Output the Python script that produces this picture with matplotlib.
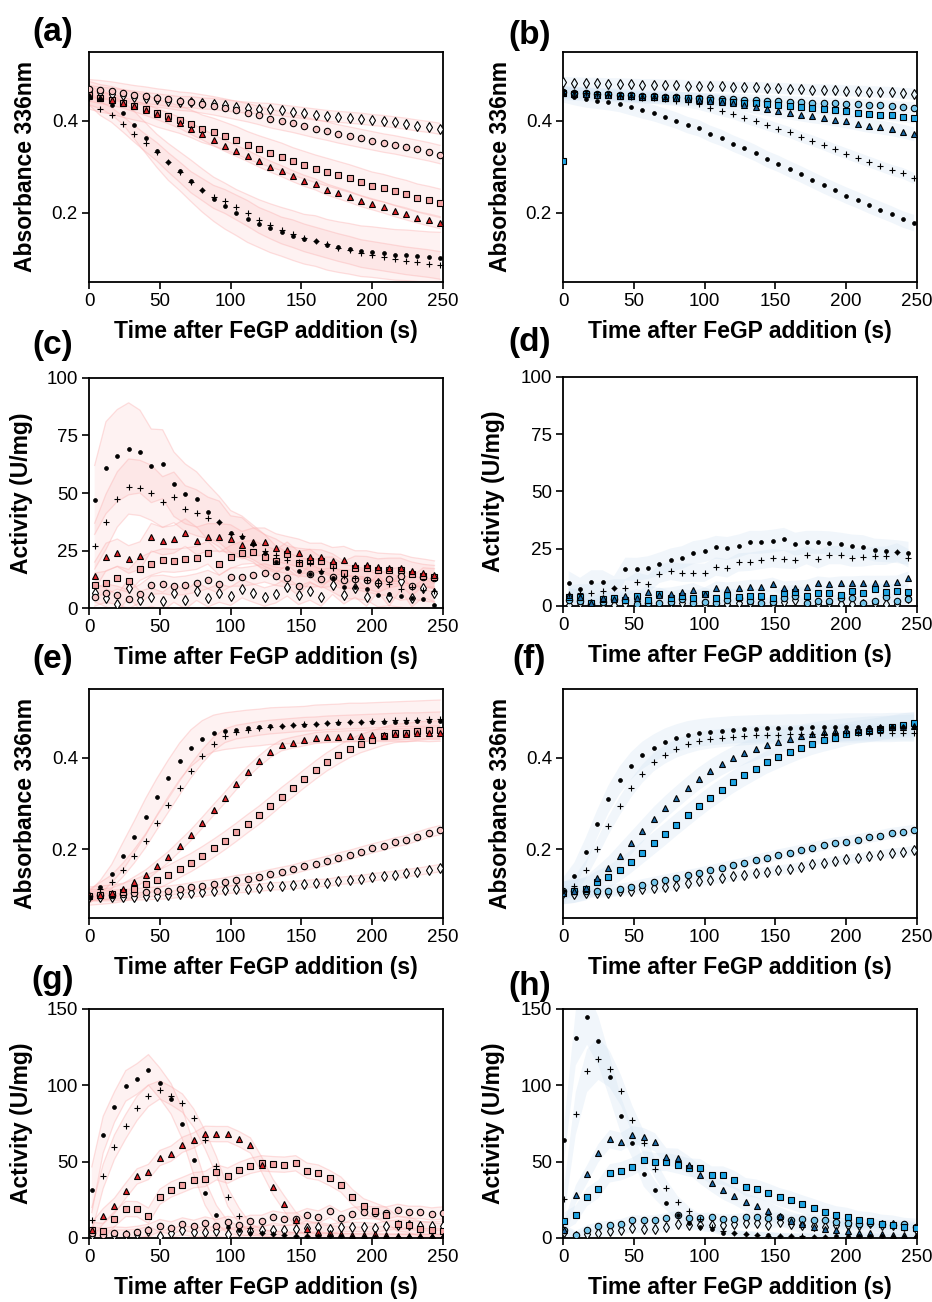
import numpy as np
import matplotlib
matplotlib.use('Agg')
import matplotlib.pyplot as plt

plt.rcParams['font.family'] = ['Liberation Sans', 'DejaVu Sans']

# time grids (s)
t_abs = [0, 8, 16, 24, 32, 40, 48, 56, 64, 72, 80, 88, 96, 104, 112, 120,
         128, 136, 144, 152, 160, 168, 176, 184, 192, 200, 208, 216, 224, 232, 240, 248]
t_c = [4, 12, 20, 28, 36, 44, 52, 60, 68, 76, 84, 92, 100, 108, 116, 124,
       132, 140, 148, 156, 164, 172, 180, 188, 196, 204, 212, 220, 228, 236, 244]
t_g = [2, 10, 18, 26, 34, 42, 50, 58, 66, 74, 82, 90, 98, 106, 114, 122,
       130, 138, 146, 154, 162, 170, 178, 186, 194, 202, 210, 218, 226, 234, 242, 250]
t_h = [1, 9, 17, 25, 33, 41, 49, 57, 65, 73, 81, 89, 97, 105, 113, 121,
       129, 137, 145, 153, 161, 169, 177, 185, 193, 201, 209, 217, 225, 233, 241, 249]

# ---- (a) absorbance, red
a_dot = [0.455, 0.447, 0.435, 0.418, 0.391, 0.363, 0.335, 0.311, 0.291, 0.270, 0.249, 0.230, 0.215, 0.201, 0.188, 0.177,
         0.167, 0.159, 0.151, 0.143, 0.139, 0.131, 0.126, 0.122, 0.117, 0.115, 0.112, 0.109, 0.108, 0.106, 0.104, 0.103]
a_plus = [0.450, 0.427, 0.413, 0.393, 0.372, 0.352, 0.333, 0.310, 0.289, 0.267, 0.251, 0.235, 0.225, 0.212, 0.199, 0.184,
          0.173, 0.162, 0.155, 0.146, 0.139, 0.132, 0.125, 0.119, 0.112, 0.108, 0.104, 0.100, 0.096, 0.093, 0.090, 0.086]
a_tri = [0.455, 0.450, 0.446, 0.440, 0.432, 0.424, 0.415, 0.406, 0.396, 0.383, 0.371, 0.358, 0.346, 0.335, 0.324, 0.312,
         0.301, 0.291, 0.280, 0.270, 0.262, 0.251, 0.243, 0.235, 0.226, 0.219, 0.212, 0.204, 0.197, 0.190, 0.184, 0.178]
a_sq = [0.456, 0.449, 0.445, 0.438, 0.432, 0.427, 0.417, 0.410, 0.403, 0.394, 0.383, 0.376, 0.367, 0.358, 0.347, 0.338,
        0.330, 0.322, 0.312, 0.304, 0.296, 0.289, 0.282, 0.275, 0.267, 0.259, 0.254, 0.247, 0.241, 0.233, 0.228, 0.222]
a_cir = [0.470, 0.468, 0.465, 0.461, 0.457, 0.454, 0.450, 0.447, 0.443, 0.441, 0.437, 0.433, 0.428, 0.423, 0.418, 0.412,
         0.405, 0.400, 0.395, 0.389, 0.383, 0.378, 0.372, 0.367, 0.362, 0.357, 0.352, 0.348, 0.343, 0.338, 0.333, 0.327]
a_dia = [0.465, 0.462, 0.459, 0.456, 0.453, 0.450, 0.447, 0.444, 0.441, 0.441, 0.438, 0.437, 0.434, 0.431, 0.429, 0.427,
         0.426, 0.423, 0.420, 0.417, 0.414, 0.411, 0.409, 0.407, 0.405, 0.402, 0.400, 0.397, 0.394, 0.390, 0.387, 0.383]
a_dot_sd = [0.020, 0.020, 0.022, 0.025, 0.030, 0.033, 0.036, 0.040, 0.042, 0.045, 0.047, 0.048, 0.050, 0.050, 0.052, 0.052,
            0.053, 0.053, 0.054, 0.054, 0.055, 0.055, 0.055, 0.055, 0.055, 0.055, 0.055, 0.055, 0.055, 0.055, 0.055, 0.055]
a_plus_sd = [0.015, 0.015, 0.016, 0.017, 0.018, 0.019, 0.020, 0.021, 0.022, 0.023, 0.024, 0.025, 0.026, 0.027, 0.028, 0.028,
             0.029, 0.029, 0.030, 0.030, 0.030, 0.030, 0.030, 0.030, 0.030, 0.030, 0.030, 0.030, 0.030, 0.030, 0.030, 0.030]
a_sd = [a_dot_sd, a_plus_sd, 0.012, 0.03, 0.02, 0.012]

# ---- (b) absorbance, blue
b_dot = [0.458, 0.452, 0.447, 0.444, 0.441, 0.437, 0.430, 0.423, 0.417, 0.409, 0.401, 0.391, 0.384, 0.372, 0.363, 0.351,
         0.341, 0.330, 0.317, 0.307, 0.295, 0.284, 0.272, 0.260, 0.249, 0.238, 0.228, 0.217, 0.207, 0.197, 0.186, 0.178]
b_plus = [0.465, 0.462, 0.460, 0.458, 0.457, 0.455, 0.453, 0.451, 0.449, 0.447, 0.444, 0.441, 0.436, 0.429, 0.422, 0.416,
          0.407, 0.399, 0.391, 0.383, 0.375, 0.365, 0.357, 0.348, 0.338, 0.329, 0.320, 0.311, 0.302, 0.293, 0.286, 0.275]
b_tri = [0.460, 0.459, 0.458, 0.457, 0.456, 0.455, 0.454, 0.453, 0.452, 0.451, 0.450, 0.448, 0.446, 0.444, 0.442, 0.440,
         0.435, 0.430, 0.426, 0.422, 0.418, 0.414, 0.410, 0.407, 0.403, 0.399, 0.394, 0.389, 0.386, 0.382, 0.377, 0.371]
b_sq = [0.460, 0.459, 0.458, 0.457, 0.456, 0.455, 0.454, 0.453, 0.452, 0.451, 0.450, 0.449, 0.448, 0.446, 0.444, 0.442,
        0.440, 0.438, 0.436, 0.434, 0.432, 0.430, 0.428, 0.426, 0.423, 0.421, 0.418, 0.416, 0.414, 0.412, 0.409, 0.406]
b_cir = [0.462, 0.461, 0.460, 0.459, 0.458, 0.457, 0.456, 0.455, 0.454, 0.453, 0.452, 0.451, 0.450, 0.449, 0.448, 0.447,
         0.446, 0.445, 0.444, 0.443, 0.442, 0.441, 0.440, 0.439, 0.438, 0.437, 0.436, 0.435, 0.434, 0.432, 0.430, 0.429]
b_dia = [0.484, 0.483, 0.482, 0.482, 0.481, 0.481, 0.480, 0.479, 0.479, 0.478, 0.478, 0.477, 0.476, 0.476, 0.475, 0.474,
         0.473, 0.473, 0.472, 0.471, 0.470, 0.469, 0.468, 0.468, 0.467, 0.466, 0.465, 0.464, 0.463, 0.462, 0.460, 0.459]
b_sd = [0.018, 0.012, 0.015, 0.012, 0.012, 0.012]
b_sq_outlier = 0.314

# ---- (c) activity, red
c_dot = [47.0, 61.0, 66.3, 69.2, 68.0, 61.8, 62.5, 53.8, 49.6, 47.2, 41.7, 37.5, 32.4, 31.0, 28.0, 24.0,
         20.0, 17.3, 16.1, 15.0, 15.5, 13.0, 9.2, 9.0, 8.4, 5.5, 6.0, 5.4, 4.5, 3.8, 1.2]
c_plus = [26.9, 37.5, 47.2, 52.8, 52.2, 50.1, 46.1, 48.1, 43.2, 41.4, 39.2, 37.5, 32.1, 31.3, 28.0, 25.0,
          23.0, 21.0, 20.0, 19.5, 16.1, 17.2, 14.0, 13.0, 12.0, 10.9, 10.3, 8.4, 9.0, 8.0, 7.5]
c_tri = [14.0, 22.2, 24.0, 21.1, 22.8, 30.8, 29.1, 29.9, 32.8, 29.2, 30.7, 30.7, 30.2, 27.3, 28.8, 28.8,
         26.3, 25.1, 24.0, 22.2, 22.2, 20.3, 20.8, 18.9, 18.9, 17.9, 17.6, 17.4, 16.0, 15.3, 14.5]
c_sq = [10.2, 11.0, 13.2, 11.8, 17.0, 19.3, 20.8, 20.5, 21.1, 21.8, 24.1, 19.3, 22.2, 24.0, 24.4, 22.1,
        20.3, 23.7, 19.6, 20.5, 20.3, 18.6, 15.4, 17.6, 17.4, 16.4, 16.7, 16.7, 15.0, 14.0, 13.5]
c_cir = [4.8, 6.5, 5.5, 3.8, 6.2, 9.9, 10.3, 9.4, 9.9, 10.9, 12.4, 10.3, 13.5, 13.5, 14.2, 15.3,
         13.8, 13.1, 9.4, 15.0, 12.8, 13.5, 12.4, 12.8, 12.4, 10.9, 12.8, 13.8, 9.4, 13.5, 13.1]
c_dia = [6.7, 4.5, 1.9, 8.7, 3.3, 4.8, 2.9, 6.5, 3.6, 7.3, 4.5, 6.5, 5.1, 8.4, 6.5, 4.8,
         6.2, 9.2, 5.5, 7.4, 4.8, 9.9, 5.8, 8.7, 4.8, 10.9, 4.8, 11.8, 4.5, 8.7, 6.7]
c_dot_sd = [15, 20, 20, 20, 18, 16, 15, 14, 13, 12, 12, 11, 10, 9, 8, 8,
            7, 7, 6, 6, 6, 6, 5, 5, 5, 5, 5, 5, 5, 5, 5]
c_plus_sd = [10, 12, 12, 12, 12, 12, 11, 11, 10, 10, 9, 9, 8, 8, 7, 7,
             7, 6, 6, 6, 6, 5, 5, 5, 5, 5, 5, 5, 5, 5, 5]
c_sd = [c_dot_sd, c_plus_sd, 6, 5, 4, 4]

# ---- (d) activity, blue
d_dot = [10.2, 7.3, 10.6, 10.6, 8.0, 16.1, 16.0, 16.7, 18.3, 20.1, 21.1, 23.3, 24.1, 25.6, 25.1, 26.2,
         27.8, 27.8, 28.3, 29.1, 27.0, 27.8, 27.8, 27.6, 27.0, 26.2, 25.9, 24.4, 24.1, 23.7, 23.0]
d_plus = [5.0, 5.5, 5.5, 6.5, 7.7, 7.7, 10.6, 9.4, 14.0, 15.3, 14.5, 14.5, 14.5, 17.2, 16.4, 19.0,
          19.3, 20.1, 20.8, 20.3, 20.1, 22.2, 20.3, 22.2, 22.2, 21.1, 21.2, 21.9, 21.9, 23.4, 20.8]
d_tri = [4.8, 4.1, 1.5, 3.6, 2.9, 4.4, 3.3, 6.0, 4.8, 5.1, 6.0, 7.0, 5.1, 7.7, 7.3, 7.7,
         8.4, 8.4, 9.4, 7.7, 8.0, 8.4, 9.9, 9.4, 9.9, 9.9, 10.2, 10.2, 10.2, 10.3, 12.1]
d_sq = [4.1, 4.1, 1.2, 2.9, 3.3, 2.6, 4.4, 2.6, 5.1, 3.3, 4.4, 3.6, 5.1, 3.6, 4.8, 4.1,
        4.4, 4.4, 3.6, 5.5, 6.3, 4.4, 5.5, 5.8, 4.8, 6.7, 5.5, 7.3, 6.3, 6.7, 6.0]
d_cir = [2.6, 2.3, 0.9, 1.9, 2.9, 2.6, 0.9, 1.2, 1.2, 1.9, 2.9, 1.5, 1.9, 1.5, 2.6, 3.3,
         2.3, 1.2, 1.9, 3.3, 4.4, 1.5, 2.3, 2.3, 3.3, 3.3, 1.5, 2.3, 4.1, 2.3, 2.9]
d_dia = [0.4, 1.2, 0.9, 0.9, 0.4, 0.9, 0.9, 0.4, 0.4, 1.2, 1.2, 0.9, 0.4, 0.9, 0.9, 1.2,
         1.2, 0.9, 0.9, 1.9, 2.6, 0.9, 0.9, 1.2, 0.9, 0.9, 0.9, 1.2, 0.9, 0.9, 3.3]
d_sd = [5, 4, 3, 3, 2, 2]

# ---- (e) absorbance, red
e_dot = [0.097, 0.117, 0.147, 0.185, 0.227, 0.271, 0.315, 0.355, 0.392, 0.421, 0.441, 0.453, 0.458, 0.461, 0.464, 0.466,
         0.469, 0.470, 0.471, 0.472, 0.474, 0.475, 0.476, 0.477, 0.477, 0.478, 0.478, 0.479, 0.479, 0.480, 0.480, 0.481]
e_plus = [0.097, 0.113, 0.129, 0.155, 0.185, 0.219, 0.258, 0.296, 0.334, 0.371, 0.403, 0.430, 0.448, 0.456, 0.460, 0.464,
          0.467, 0.469, 0.471, 0.473, 0.474, 0.476, 0.477, 0.478, 0.479, 0.480, 0.481, 0.482, 0.483, 0.483, 0.484, 0.485]
e_tri = [0.100, 0.101, 0.104, 0.113, 0.128, 0.143, 0.163, 0.183, 0.207, 0.231, 0.258, 0.286, 0.313, 0.342, 0.369, 0.392,
         0.412, 0.427, 0.433, 0.438, 0.443, 0.445, 0.446, 0.447, 0.448, 0.449, 0.450, 0.451, 0.452, 0.453, 0.454, 0.455]
e_sq = [0.098, 0.100, 0.102, 0.106, 0.114, 0.124, 0.133, 0.145, 0.158, 0.171, 0.186, 0.202, 0.219, 0.237, 0.256, 0.274,
        0.294, 0.315, 0.334, 0.354, 0.373, 0.391, 0.406, 0.420, 0.431, 0.439, 0.447, 0.453, 0.455, 0.458, 0.460, 0.460]
e_cir = [0.098, 0.100, 0.101, 0.102, 0.104, 0.106, 0.108, 0.110, 0.113, 0.117, 0.121, 0.124, 0.128, 0.133, 0.136, 0.140,
         0.146, 0.151, 0.156, 0.163, 0.169, 0.175, 0.182, 0.188, 0.195, 0.202, 0.208, 0.215, 0.220, 0.228, 0.236, 0.242]
e_dia = [0.095, 0.095, 0.096, 0.096, 0.097, 0.098, 0.099, 0.100, 0.103, 0.104, 0.106, 0.109, 0.111, 0.113, 0.114, 0.116,
         0.119, 0.120, 0.122, 0.124, 0.126, 0.127, 0.131, 0.133, 0.135, 0.139, 0.142, 0.144, 0.148, 0.151, 0.155, 0.159]
e_dot_sd = [0.010, 0.015, 0.020, 0.030, 0.035, 0.040, 0.040, 0.040, 0.040, 0.040, 0.040, 0.040, 0.040, 0.040, 0.040, 0.040,
            0.040, 0.040, 0.040, 0.040, 0.041, 0.041, 0.041, 0.042, 0.042, 0.042, 0.043, 0.043, 0.044, 0.044, 0.045, 0.045]
e_sd = [e_dot_sd, 0.015, 0.012, 0.02, 0.01, 0.008]

# ---- (f) absorbance, blue
f_dot = [0.108, 0.141, 0.195, 0.255, 0.309, 0.351, 0.382, 0.405, 0.421, 0.434, 0.443, 0.450, 0.454, 0.457, 0.459, 0.461,
         0.462, 0.463, 0.464, 0.464, 0.465, 0.465, 0.466, 0.466, 0.466, 0.467, 0.467, 0.467, 0.467, 0.468, 0.468, 0.468]
f_plus = [0.108, 0.120, 0.155, 0.201, 0.251, 0.294, 0.333, 0.365, 0.390, 0.407, 0.420, 0.429, 0.436, 0.440, 0.443, 0.445,
          0.447, 0.449, 0.450, 0.450, 0.451, 0.451, 0.452, 0.452, 0.453, 0.453, 0.453, 0.454, 0.454, 0.454, 0.455, 0.455]
f_tri = [0.105, 0.108, 0.115, 0.137, 0.159, 0.186, 0.213, 0.240, 0.267, 0.291, 0.313, 0.334, 0.354, 0.371, 0.386, 0.399,
         0.410, 0.419, 0.428, 0.435, 0.441, 0.447, 0.452, 0.456, 0.459, 0.461, 0.463, 0.465, 0.466, 0.467, 0.468, 0.469]
f_sq = [0.105, 0.108, 0.113, 0.128, 0.139, 0.155, 0.173, 0.193, 0.213, 0.233, 0.254, 0.274, 0.294, 0.313, 0.330, 0.347,
        0.362, 0.376, 0.390, 0.401, 0.412, 0.422, 0.431, 0.438, 0.444, 0.451, 0.456, 0.459, 0.463, 0.467, 0.472, 0.475]
f_cir = [0.108, 0.108, 0.109, 0.109, 0.110, 0.113, 0.117, 0.123, 0.128, 0.133, 0.138, 0.143, 0.148, 0.154, 0.159, 0.165,
         0.170, 0.177, 0.182, 0.188, 0.193, 0.198, 0.203, 0.209, 0.214, 0.217, 0.221, 0.226, 0.230, 0.235, 0.238, 0.242]
f_dia = [0.104, 0.103, 0.104, 0.104, 0.105, 0.108, 0.110, 0.113, 0.115, 0.117, 0.121, 0.126, 0.130, 0.133, 0.137, 0.141,
         0.143, 0.148, 0.151, 0.155, 0.158, 0.162, 0.167, 0.170, 0.174, 0.178, 0.181, 0.185, 0.188, 0.192, 0.194, 0.198]
f_sd = [0.03, 0.02, 0.025, 0.025, 0.012, 0.01]

# ---- (g) activity, red
g_dot = [31.6, 67.6, 85.7, 99.6, 104.2, 110.1, 101.4, 91.1, 74.6, 51.2, 29.4, 15.3, 7.0, 5.0, 3.5, 3.0,
         2.5, 2.0, 1.5, 1.5, 1.2, 1.0, 1.0, 0.8, 0.8, 0.7, 0.6, 0.5, 0.5, 0.5, 0.4, 0.4]
g_plus = [12.0, 40.3, 59.5, 73.0, 85.0, 93.1, 97.0, 93.1, 88.3, 78.5, 64.3, 47.3, 26.8, 14.6, 6.5, 3.5,
          2.5, 2.0, 1.5, 1.2, 1.0, 1.0, 0.8, 0.8, 0.6, 0.6, 0.5, 0.5, 0.4, 0.4, 0.3, 0.3]
g_tri = [5.0, 14.2, 21.1, 31.0, 40.3, 43.2, 52.3, 55.2, 61.0, 63.9, 68.2, 68.0, 68.0, 64.7, 60.6, 48.0,
         33.4, 22.5, 12.0, 6.0, 4.0, 3.0, 2.5, 2.2, 2.0, 2.8, 2.0, 1.5, 1.5, 1.2, 1.2, 1.0]
g_sq = [5.2, 4.6, 12.4, 19.0, 18.8, 14.6, 26.9, 31.7, 34.7, 37.8, 38.6, 43.0, 40.8, 44.5, 47.2, 48.9,
        48.3, 48.0, 48.9, 44.1, 42.8, 39.2, 34.9, 26.8, 20.7, 17.9, 15.0, 9.2, 8.7, 5.9, 5.0, 4.4]
g_cir = [3.3, 2.2, 3.3, 2.8, 3.7, 5.0, 8.1, 6.5, 9.2, 7.6, 9.8, 8.1, 10.2, 8.7, 10.9, 10.9,
         13.7, 12.4, 12.4, 15.3, 13.7, 17.4, 13.1, 15.9, 16.8, 16.4, 16.4, 18.1, 16.8, 16.8, 15.7, 16.4]
g_dia = [2.0, 1.5, 2.2, 2.2, 2.8, 4.4, 1.1, 3.3, 5.0, 3.9, 3.9, 4.4, 2.8, 4.4, 4.4, 5.0,
         5.5, 5.0, 5.9, 6.5, 7.2, 5.9, 7.2, 7.2, 7.2, 6.5, 8.1, 8.7, 8.7, 7.6, 7.6, 8.1]
g_dot_sd = [15, 12, 10, 10, 10, 10, 10, 10, 10, 10, 8, 6, 4, 3, 2, 2,
            2, 2, 2, 2, 2, 2, 2, 2, 2, 2, 2, 2, 2, 2, 2, 2]
g_plus_sd = [8, 8, 8, 8, 8, 7, 6, 6, 6, 6, 6, 6, 6, 5, 3, 2,
             2, 2, 2, 2, 2, 2, 2, 2, 2, 2, 2, 2, 2, 2, 2, 2]
g_sd = [g_dot_sd, g_plus_sd, 5, 5, 4, 3]

# ---- (h) activity, blue
h_dot = [64.0, 131.0, 144.5, 129.0, 105.3, 80.1, 62.2, 41.6, 31.3, 23.0, 15.0, 10.0, 7.4, 5.7, 3.5, 3.0,
         2.6, 2.0, 2.0, 1.3, 1.0, 0.8, 0.8, 0.6, 1.0, 1.0, 1.5, 1.5, 1.0, 0.8, 0.6, 0.5]
h_plus = [25.3, 81.5, 109.5, 117.5, 110.5, 96.5, 77.5, 62.2, 45.4, 33.0, 23.4, 17.5, 12.5, 7.0, 4.5, 3.0,
          2.5, 2.0, 1.5, 1.2, 1.0, 1.0, 0.8, 0.8, 0.6, 0.6, 0.5, 0.5, 0.4, 0.4, 0.3, 0.3]
h_tri = [5.0, 28.4, 41.6, 55.5, 64.7, 62.9, 67.3, 66.0, 62.6, 52.8, 52.5, 47.5, 41.3, 36.0, 31.1, 27.6,
         23.5, 20.7, 17.6, 14.1, 11.0, 9.0, 7.0, 6.1, 5.4, 4.5, 3.5, 3.0, 2.5, 2.0, 1.8, 1.5]
h_sq = [10.8, 15.3, 26.8, 31.9, 42.3, 43.7, 46.6, 50.9, 49.7, 49.8, 48.1, 46.1, 45.7, 40.9, 40.9, 38.0,
        33.3, 32.2, 29.6, 26.7, 24.6, 22.0, 19.6, 17.0, 14.8, 13.7, 11.5, 10.9, 9.3, 8.7, 7.2, 6.7]
h_cir = [5.4, 1.7, 5.4, 7.6, 8.3, 9.3, 12.0, 11.5, 12.0, 13.3, 14.8, 13.3, 13.3, 13.7, 12.4, 12.6,
         13.7, 13.7, 13.3, 13.7, 12.0, 12.6, 12.0, 11.5, 10.4, 9.8, 9.3, 9.8, 8.9, 8.7, 8.9, 7.2]
h_dia = [3.9, 1.1, 2.4, 3.5, 4.3, 5.4, 6.7, 6.1, 6.1, 7.2, 9.3, 8.3, 8.3, 8.3, 8.7, 9.3,
         9.8, 9.8, 8.7, 10.4, 9.3, 8.7, 7.6, 7.2, 8.7, 8.3, 8.3, 9.8, 8.3, 8.3, 7.6, 6.1]
h_dot_sd = [12, 18, 18, 16, 14, 12, 10, 8, 6, 5, 4, 3, 3, 2, 2, 2,
            2, 2, 2, 2, 2, 2, 2, 2, 2, 2, 2, 2, 2, 2, 2, 2]
h_plus_sd = [10, 14, 14, 14, 12, 10, 9, 8, 6, 5, 4, 3, 3, 2, 2, 2,
             2, 2, 2, 2, 2, 2, 2, 2, 2, 2, 2, 2, 2, 2, 2, 2]
h_sd = [h_dot_sd, h_plus_sd, 6, 6, 3, 3]

RED = {'tri': '#e0252a', 'sq': '#f4a3a3', 'cir': '#f8c6c6', 'dia': '#ffffff',
       'band': '#fcb0b0', 'band_a': 0.16, 'edge_a': 0.40}
BLUE = {'tri': '#1f6aa6', 'sq': '#1ea4e3', 'cir': '#74c5ea', 'dia': '#eaf6fc',
        'band': '#d2e3f3', 'band_a': 0.30, 'edge_a': 0.0}

KEYS = ['dot', 'plus', 'tri', 'sq', 'cir', 'dia']


def draw_series(ax, t, series, sds, pal):
    t = np.asarray(t)
    for m, sd in zip(series, sds):
        m = np.asarray(m)
        sd = np.asarray(sd)
        ax.fill_between(t, m - sd, m + sd, facecolor=pal['band'], alpha=pal['band_a'],
                        linewidth=0, zorder=1)
        if pal['edge_a'] > 0:
            ax.plot(t, m + sd, color=pal['band'], alpha=pal['edge_a'], lw=0.9, zorder=1)
            ax.plot(t, m - sd, color=pal['band'], alpha=pal['edge_a'], lw=0.9, zorder=1)
    styles = {
        'dot': dict(marker='o', ms=2.8, mfc='black', mec='black', mew=0.5),
        'plus': dict(marker='+', ms=4.5, color='black', mew=0.8),
        'tri': dict(marker='^', ms=4.8, mfc=pal['tri'], mec='black', mew=0.8),
        'sq': dict(marker='s', ms=4.4, mfc=pal['sq'], mec='black', mew=0.8),
        'cir': dict(marker='o', ms=4.6, mfc=pal['cir'], mec='black', mew=0.8),
        'dia': dict(marker='d', ms=5.2, mfc=pal['dia'], mec='black', mew=0.8),
    }
    for key in ['dia', 'cir', 'sq', 'tri', 'plus', 'dot']:
        m = series[KEYS.index(key)]
        ax.plot(t, m, linestyle='none', zorder=3, **styles[key])


def style_axes(ax, kind, ylab_x):
    ax.set_xlim(0, 250)
    ax.set_xticks([0, 50, 100, 150, 200, 250])
    if kind == 'abs':
        ax.set_ylim(0.05, 0.55)
        ax.set_yticks([0.2, 0.4])
        ax.set_yticklabels(['0.2', '0.4'])
        ax.set_ylabel('Absorbance 336nm', fontsize=16.5, fontweight='bold')
    elif kind == 'act100':
        ax.set_ylim(0, 100)
        ax.set_yticks([0, 25, 50, 75, 100])
        ax.set_ylabel('Activity (U/mg)', fontsize=16.5, fontweight='bold')
    else:
        ax.set_ylim(0, 150)
        ax.set_yticks([0, 50, 100, 150])
        ax.set_ylabel('Activity (U/mg)', fontsize=16.5, fontweight='bold')
    ax.set_xlabel('Time after FeGP addition (s)', fontsize=16.5, fontweight='bold')
    ax.xaxis.label.set_va('center')
    ax.yaxis.label.set_va('center')
    ax.xaxis.set_label_coords(0.5, -0.215)
    ax.yaxis.set_label_coords(ylab_x, 0.5)
    ax.tick_params(direction='out', length=5, width=1.2, labelsize=13.5, pad=3)
    for s in ax.spines.values():
        s.set_linewidth(1.3)


fig = plt.figure(figsize=(9.32, 13.02), dpi=100)

W = 0.3798
left_l, left_r = 0.0955, 0.6041
panels = [
    ('(a)', [left_l, 0.7834, W, 0.1767], t_abs, [a_dot, a_plus, a_tri, a_sq, a_cir, a_dia], a_sd, RED, 'abs', -0.178, (0.057, 0.9747)),
    ('(b)', [left_r, 0.7834, W, 0.1767], t_abs, [b_dot, b_plus, b_tri, b_sq, b_cir, b_dia], b_sd, BLUE, 'abs', -0.178, (0.568, 0.9731)),
    ('(c)', [left_l, 0.5330, W, 0.1767], t_c, [c_dot, c_plus, c_tri, c_sq, c_cir, c_dia], c_sd, RED, 'act100', -0.19, (0.056, 0.735)),
    ('(d)', [left_r, 0.5346, W, 0.1759], t_c, [d_dot, d_plus, d_tri, d_sq, d_cir, d_dia], d_sd, BLUE, 'act100', -0.195, (0.568, 0.7366)),
    ('(e)', [left_l, 0.2949, W, 0.1759], t_abs, [e_dot, e_plus, e_tri, e_sq, e_cir, e_dia], e_sd, RED, 'abs', -0.178, (0.056, 0.4931)),
    ('(f)', [left_r, 0.2949, W, 0.1759], t_abs, [f_dot, f_plus, f_tri, f_sq, f_cir, f_dia], f_sd, BLUE, 'abs', -0.178, (0.568, 0.4931)),
    ('(g)', [left_l, 0.0492, W, 0.1759], t_g, [g_dot, g_plus, g_tri, g_sq, g_cir, g_dia], g_sd, RED, 'act150', -0.19, (0.056, 0.2466)),
    ('(h)', [left_r, 0.0492, W, 0.1759], t_h, [h_dot, h_plus, h_tri, h_sq, h_cir, h_dia], h_sd, BLUE, 'act150', -0.195, (0.568, 0.2420)),
]

for label, rect, t, series, sds, pal, kind, ylx, lpos in panels:
    ax = fig.add_axes(rect)
    draw_series(ax, t, series, sds, pal)
    if label == '(b)':
        ax.plot([0], [b_sq_outlier], linestyle='none', marker='s', ms=4.4,
                mfc=pal['sq'], mec='black', mew=0.8, zorder=3)
    style_axes(ax, kind, ylx)
    fig.text(lpos[0], lpos[1], label, fontsize=24, fontweight='bold', ha='center', va='center')

fig.savefig('out.png', dpi=100)
